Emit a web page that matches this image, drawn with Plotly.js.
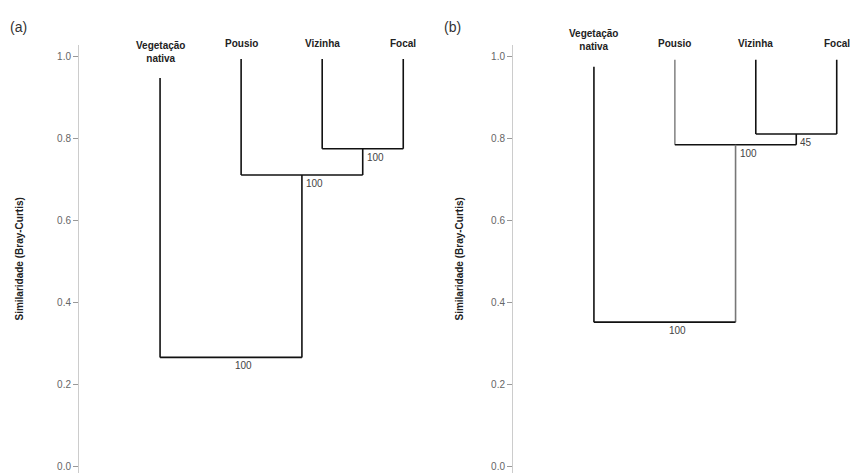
<!DOCTYPE html>
<html>
<head>
<meta charset="utf-8">
<script src="https://cdn.plot.ly/plotly-3.0.1.min.js"></script>
<style>html,body{margin:0;padding:0;background:#fff;}#chart{width:861px;height:473px;}</style>
</head>
<body>
<div id="chart"></div>
<script>
// ---- data ----
const leavesA = ["Vegetação<br>nativa", "Pousio", "Vizinha", "Focal"];
// merges: [child1, child2, height]; leaves are 0..3, merge k creates node 4+k
const mergeA1 = [2, 3, 0.776];
const mergeA2 = [1, 4, 0.712];
const mergeA3 = [0, 5, 0.267];
const supportA = ["100", "100", "100"];

const leavesB = ["Vegetação<br>nativa", "Pousio", "Vizinha", "Focal"];
const mergeB1 = [2, 3, 0.812];
const mergeB2 = [1, 4, 0.786];
const mergeB3 = [0, 5, 0.353];
const supportB = ["45", "100", "100"];

const yTicks = [0.0, 0.2, 0.4, 0.6, 0.8, 1.0];
const yTitle = "Similaridade (Bray-Curtis)";

// ---- build ----
function dendro(leaves, merges, support, xa, ya, leafTops, leafColors, rootRightColor) {
  const nodeX = [], nodeH = [];
  leaves.forEach((l, i) => { nodeX[i] = i + 1; nodeH[i] = leafTops[i]; });
  const traces = [], ann = [];
  merges.forEach((m, k) => {
    const [a, b, h] = m;
    const id = leaves.length + k;
    nodeX[id] = (nodeX[a] + nodeX[b]) / 2;
    nodeH[id] = h;
    const isLast = k === merges.length - 1;
    [a, b].forEach((c, j) => {
      let col = "#111";
      if (c < leaves.length && leafColors[c]) col = leafColors[c];
      if (isLast && j === 1 && rootRightColor) col = rootRightColor;
      traces.push({x: [nodeX[c], nodeX[c]], y: [nodeH[c], h], xaxis: xa, yaxis: ya,
        mode: "lines", line: {color: col, width: 1.6}, hoverinfo: "skip", showlegend: false});
    });
    traces.push({x: [nodeX[a], nodeX[b]], y: [h, h], xaxis: xa, yaxis: ya,
      mode: "lines", line: {color: "#111", width: 1.6}, hoverinfo: "skip", showlegend: false});
    ann.push({x: nodeX[id], y: h, xref: xa, yref: ya, text: support[k], showarrow: false,
      xanchor: "left", yanchor: "top", xshift: 2, yshift: -1,
      font: {family: "Liberation Sans, Arial", size: 10, color: "#444"}});
  });
  return {traces, ann};
}

const A = dendro(leavesA, [mergeA1, mergeA2, mergeA3], supportA, "x", "y",
  [0.949, 0.995, 0.995, 0.995], [], null);
const B = dendro(leavesB, [mergeB1, mergeB2, mergeB3], supportB, "x2", "y2",
  [0.976, 0.993, 0.993, 0.993], [null, "#888"], "#777");

const labelFont = {family: "Liberation Sans, Arial", size: 10, color: "#222"};
const py = px => 1 - px / 473;
const leafAnn = [];
leavesA.forEach((l, i) => leafAnn.push({x: i + 1, y: py(i === 0 ? 52 : 43), xref: "x", yref: "paper",
  text: "<b>" + l + "</b>", showarrow: false, xanchor: "center", yanchor: "middle", font: labelFont}));
leavesB.forEach((l, i) => leafAnn.push({x: i + 1, y: py(i === 0 ? 40 : 43), xref: "x2", yref: "paper",
  text: "<b>" + l + "</b>", showarrow: false, xanchor: "center", yanchor: "middle", font: labelFont}));

const panelAnn = [
  {x: 18 / 861, y: py(27), xref: "paper", yref: "paper", text: "(a)", showarrow: false,
   xanchor: "center", yanchor: "middle", font: {family: "Liberation Sans, Arial", size: 14, color: "#333"}},
  {x: 452 / 861, y: py(27), xref: "paper", yref: "paper", text: "(b)", showarrow: false,
   xanchor: "center", yanchor: "middle", font: {family: "Liberation Sans, Arial", size: 14, color: "#333"}}
];

function yax(domain, standoff) {
  return {
    domain: domain, range: [-0.015, 1.03], tickvals: yTicks,
    ticktext: yTicks.map(v => v.toFixed(1)),
    ticks: "outside", ticklen: 5, tickwidth: 1, tickcolor: "#999", showline: true, linecolor: "#ccc", linewidth: 1,
    showgrid: false, zeroline: false,
    tickfont: {family: "Liberation Sans, Arial", size: 10, color: "#666"},
    title: {text: "<b>" + yTitle + "</b>", standoff: standoff,
      font: {family: "Liberation Sans, Arial", size: 10, color: "#222"}}
  };
}
function xax(domain, anchor) {
  return {domain: domain, anchor: anchor, range: [0, 4.33], showline: false, showgrid: false,
    zeroline: false, showticklabels: false, ticks: ""};
}

const layout = {
  width: 861, height: 473,
  margin: {l: 0, r: 0, t: 0, b: 0},
  paper_bgcolor: "#fff", plot_bgcolor: "#fff",
  showlegend: false,
  xaxis: xax([79 / 861, 430 / 861], "y"),
  yaxis: Object.assign(yax([0, 0.9055], 31), {anchor: "x"}),
  xaxis2: Object.assign(xax([513 / 861, 1], "y2"), {range: [0, 4.3]}),
  yaxis2: Object.assign(yax([0, 0.9055], 25), {anchor: "x2"}),
  annotations: [...A.ann, ...B.ann, ...leafAnn, ...panelAnn]
};

Plotly.newPlot("chart", [...A.traces, ...B.traces], layout, {staticPlot: true, displayModeBar: false});
</script>
</body>
</html>
